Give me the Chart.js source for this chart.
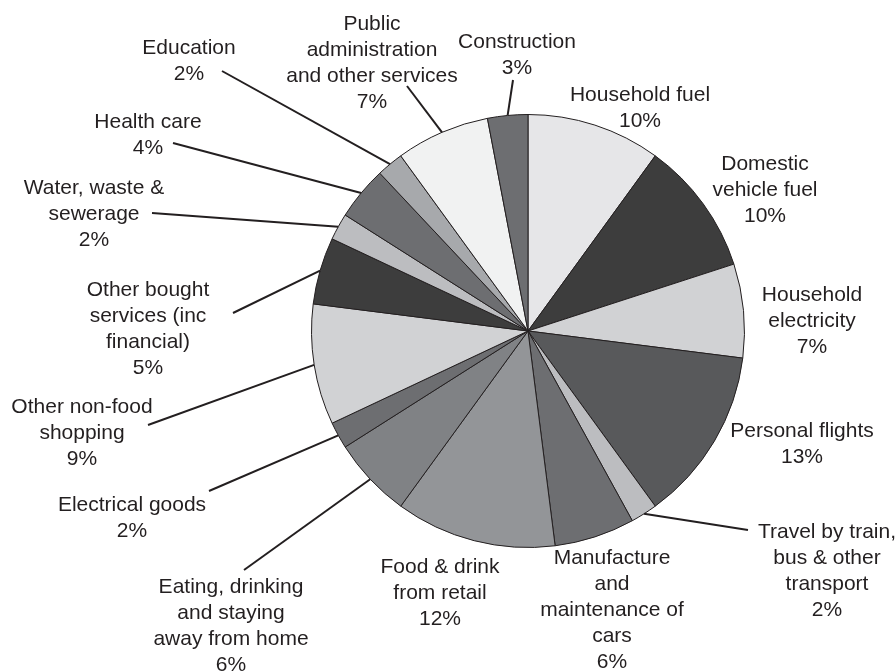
<!DOCTYPE html>
<html>
<head>
<meta charset="utf-8">
<script src="https://cdn.jsdelivr.net/npm/chart.js@4.4.1/dist/chart.umd.min.js"></script>
<style>
  html, body { margin: 0; padding: 0; background: #fff; }
  #wrap { width: 896px; height: 671px; }
</style>
</head>
<body>
<div id="wrap"><canvas id="chart"></canvas></div>
<script>
// Sectors, clockwise from 12 o'clock
const categories = [
  ['Household fuel'],
  ['Domestic', 'vehicle fuel'],
  ['Household', 'electricity'],
  ['Personal flights'],
  ['Travel by train,', 'bus & other', 'transport'],
  ['Manufacture', 'and', 'maintenance of', 'cars'],
  ['Food & drink', 'from retail'],
  ['Eating, drinking', 'and staying', 'away from home'],
  ['Electrical goods'],
  ['Other non-food', 'shopping'],
  ['Other bought', 'services (inc', 'financial)'],
  ['Water, waste &', 'sewerage'],
  ['Health care'],
  ['Education'],
  ['Public', 'administration', 'and other services'],
  ['Construction']
]

// share of the footprint, %
const shares = [10, 10, 7, 13, 2, 6, 12, 6, 2, 9, 5, 2, 4, 2, 7, 3]

const sliceColors = [
  '#e6e6e8', '#3d3d3d', '#d1d2d4', '#58595b',
  '#bcbdc0', '#6d6e71', '#939598', '#808285',
  '#6d6e71', '#d1d2d4', '#3d3d3d', '#bcbdc0',
  '#6d6e71', '#a7a9ac', '#f1f2f2', '#6d6e71'
]

// centre of the first text line for each label
const labelAt = [
  [640, 95], [765, 164], [812, 295], [802, 431],
  [827, 532], [612, 558], [440, 567], [231, 587],
  [132, 505], [82, 407], [148, 290], [94, 188],
  [148, 122], [189, 48], [372, 24], [517, 42]
]

// outer end of the leader line (null = label sits next to its slice)
const leaderTo = [
  null, null, null, null,
  [748, 530], null, null, [244, 570],
  [209, 491], [148, 425], [233, 313], [152, 213],
  [173, 143], [222, 71], [407, 86], [513, 80]
]

const INK = '#231f20'
const LINE_HEIGHT = 26

const calloutPlugin = {
  id: 'callouts',
  afterDatasetsDraw (chart) {
    const ctx = chart.ctx
    const arcs = chart.getDatasetMeta(0).data
    ctx.save()

    // leader lines from the rim of each slice to its label
    ctx.strokeStyle = INK
    ctx.lineWidth = 2
    arcs.forEach((arc, i) => {
      if (!leaderTo[i]) return
      const mid = (arc.startAngle + arc.endAngle) / 2
      const x0 = arc.x + Math.cos(mid) * arc.outerRadius
      const y0 = arc.y + Math.sin(mid) * arc.outerRadius
      ctx.beginPath()
      ctx.moveTo(x0, y0)
      ctx.lineTo(leaderTo[i][0], leaderTo[i][1])
      ctx.stroke()
    })

    // label text: category lines plus the share
    ctx.fillStyle = INK
    ctx.font = '21px "Liberation Sans", Arial, sans-serif'
    ctx.textAlign = 'center'
    ctx.textBaseline = 'middle'
    categories.forEach((lines, i) => {
      const all = lines.concat([shares[i] + '%'])
      all.forEach((txt, k) => {
        ctx.fillText(txt, labelAt[i][0], labelAt[i][1] + k * LINE_HEIGHT)
      })
    })
    ctx.restore()
  }
}

new Chart(document.getElementById('chart'), {
  type: 'pie',
  data: {
    labels: categories.map(l => l.join(' ')),
    datasets: [{
      data: shares,
      backgroundColor: sliceColors,
      borderColor: INK,
      borderWidth: 1
    }]
  },
  options: {
    responsive: true,
    maintainAspectRatio: false,
    animation: false,
    layout: {
      padding: { left: 311, right: 151, top: 114, bottom: 123 }
    },
    plugins: {
      legend: { display: false },
      tooltip: { enabled: false }
    }
  },
  plugins: [calloutPlugin]
})
</script>
</body>
</html>
